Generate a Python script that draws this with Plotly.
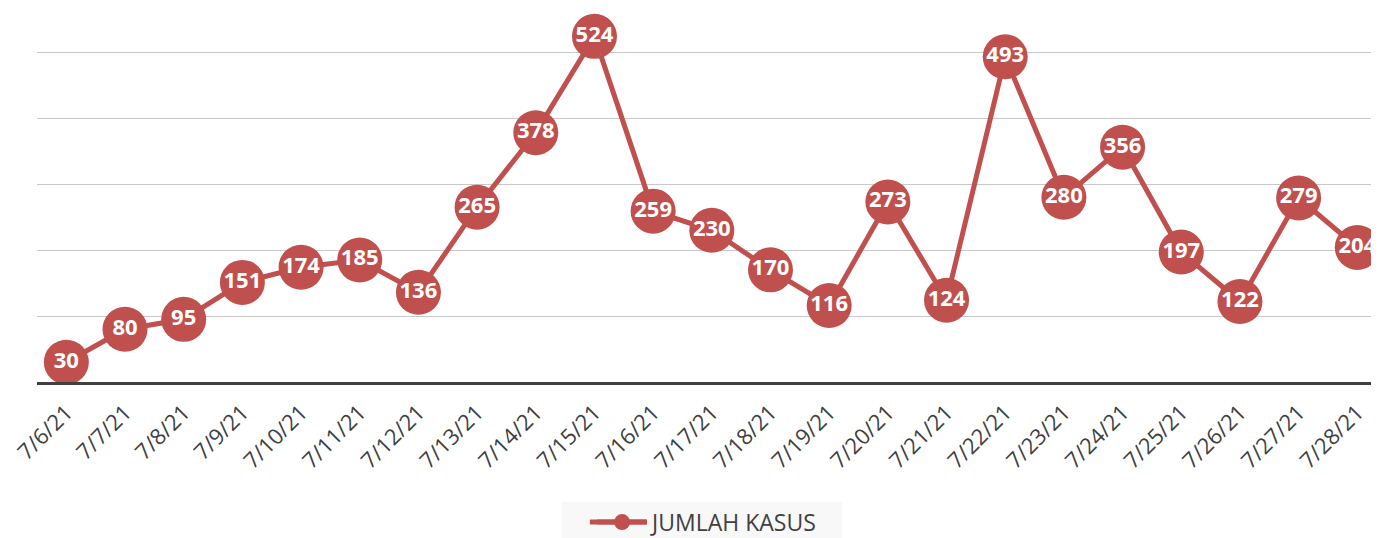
import plotly.graph_objects as go

dates = ["7/6/21", "7/7/21", "7/8/21", "7/9/21", "7/10/21", "7/11/21", "7/12/21",
         "7/13/21", "7/14/21", "7/15/21", "7/16/21", "7/17/21", "7/18/21", "7/19/21",
         "7/20/21", "7/21/21", "7/22/21", "7/23/21", "7/24/21", "7/25/21", "7/26/21",
         "7/27/21", "7/28/21"]
kasus = [30, 80, 95, 151, 174, 185, 136, 265, 378, 524, 259, 230, 170, 116,
         273, 124, 493, 280, 356, 197, 122, 279, 204]
series_name = "JUMLAH KASUS"

RED = "#C0504D"

fig = go.Figure()
fig.add_trace(go.Scatter(
    x=dates, y=kasus, name=series_name,
    mode="lines+markers+text",
    line=dict(color=RED, width=5),
    marker=dict(color=RED, size=45),
    text=[str(v) for v in kasus],
    textposition="middle center",
    textfont=dict(color="white", size=22, family="Open Sans", weight="bold"),
    cliponaxis=False,
))

# legend background box
fig.add_shape(type="rect", xref="paper", yref="paper",
              x0=0.391, x1=0.600, y0=-0.321, y1=-0.417,
              fillcolor="#f8f8f8", line=dict(width=0), layer="below")
# longer legend line (Excel style)
fig.add_shape(type="line", xref="paper", yref="paper",
              x0=0.412, x1=0.454, y0=-0.3744, y1=-0.3744,
              line=dict(color=RED, width=5), layer="below")

fig.update_layout(
    width=1371, height=530,
    margin=dict(l=29, r=0, t=0, b=156),
    paper_bgcolor="white", plot_bgcolor="white",
    showlegend=True,
    legend=dict(orientation="h", x=0.4136, y=0.03, xanchor="left", yanchor="middle",
                yref="container",
                bgcolor="rgba(0,0,0,0)", itemwidth=50,
                font=dict(family="Open Sans", size=23, color="#404040")),
    xaxis=dict(type="category", range=[-0.5, 22.37], tickangle=-45, automargin=False,
               showgrid=False, showline=True, linecolor="#404040", linewidth=3,
               ticks="", ticklabelstandoff=6,
               tickfont=dict(family="Open Sans", size=22, color="#404040")),
    yaxis=dict(range=[0, 567], dtick=100, showticklabels=False, automargin=False,
               showgrid=True, gridcolor="#c8c8c8", gridwidth=1.3,
               zeroline=False, showline=False),
)

fig.write_html("out.html")
